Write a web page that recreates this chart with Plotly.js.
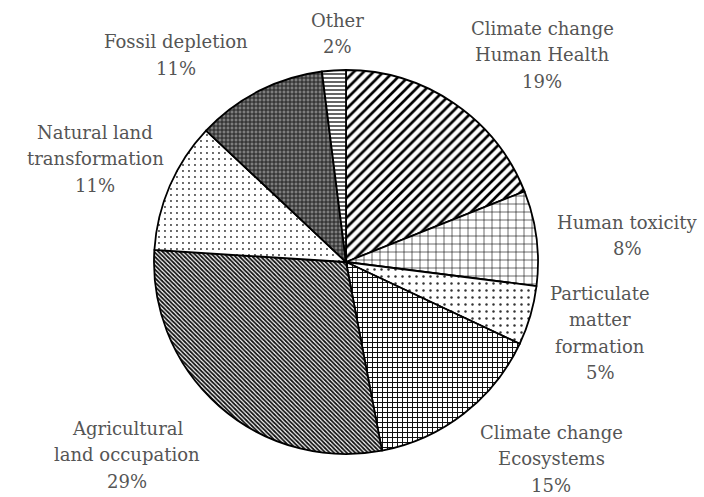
<!DOCTYPE html>
<html>
<head>
<meta charset="utf-8">
<script src="https://cdn.plot.ly/plotly-3.0.1.min.js"></script>
<style>
  html, body { margin: 0; padding: 0; background: #fff; }
  #chart { width: 704px; height: 497px; }
</style>
</head>
<body>
<div id="chart"></div>
<script>
// Impact category shares (%), clockwise from 12 o'clock
const categories = [
  "Climate change<br>Human Health",
  "Human toxicity",
  "Particulate<br>matter<br>formation",
  "Climate change<br>Ecosystems",
  "Agricultural<br>land occupation",
  "Natural land<br>transformation",
  "Fossil depletion",
  "Other"
];
const shares = [19, 8, 5, 15, 29, 11, 11, 2];

// Hatch fill for each slice
const hatchShape    = ["/", "+", ".", "+", "\\", ".", "+", "-"];
const hatchSize     = [7, 8, 7, 5, 3, 6, 4, 4];
const hatchSolidity = [0.38, 0.14, 0.1, 0.36, 0.6, 0.08, 0.45, 0.3];
const hatchFg       = ["#000", "#000", "#333", "#111", "#111", "#333", "#222", "#000"];
const hatchBg       = ["#fff", "#fff", "#fff", "#fff", "#fff", "#fff", "#7e7e7e", "#fff"];

// Label anchor (pixel centre of the first line) for each slice
const labelPx = [
  [542, 28], [627, 222], [600, 293], [551, 432],
  [127, 428], [95, 132], [176, 42], [337, 20]
];
const lineStep = 26.5;

// Pie sits in a 384px square centred at (346, 262)
const W = 704, H = 497;
const M = { l: 154, r: 166, t: 70, b: 43 };
const pw = W - M.l - M.r, ph = H - M.t - M.b;

const annotations = [];
categories.forEach((name, i) => {
  const lines = name.split("<br>").concat([shares[i] + "%"]);
  lines.forEach((ln, k) => {
    const px = labelPx[i][0];
    const py = labelPx[i][1] + k * lineStep;
    annotations.push({
      text: ln,
      xref: "paper", yref: "paper",
      x: (px - M.l) / pw,
      y: (H - M.b - py) / ph,
      xanchor: "center", yanchor: "middle",
      showarrow: false,
      font: { family: "DejaVu Serif", size: 18, color: "#555555" }
    });
  });
});

const trace = {
  type: "pie",
  labels: categories,
  values: shares,
  sort: false,
  direction: "clockwise",
  rotation: 0,
  textinfo: "none",
  hoverinfo: "label+percent",
  marker: {
    colors: hatchBg,
    line: { color: "#000", width: 1.8 },
    pattern: {
      shape: hatchShape,
      size: hatchSize,
      solidity: hatchSolidity,
      fgcolor: hatchFg,
      bgcolor: hatchBg,
      fillmode: "replace"
    }
  }
};

Plotly.newPlot("chart", [trace], {
  width: W, height: H,
  margin: M,
  showlegend: false,
  paper_bgcolor: "#fff",
  annotations: annotations
}, { displayModeBar: false, staticPlot: true });
</script>
</body>
</html>
